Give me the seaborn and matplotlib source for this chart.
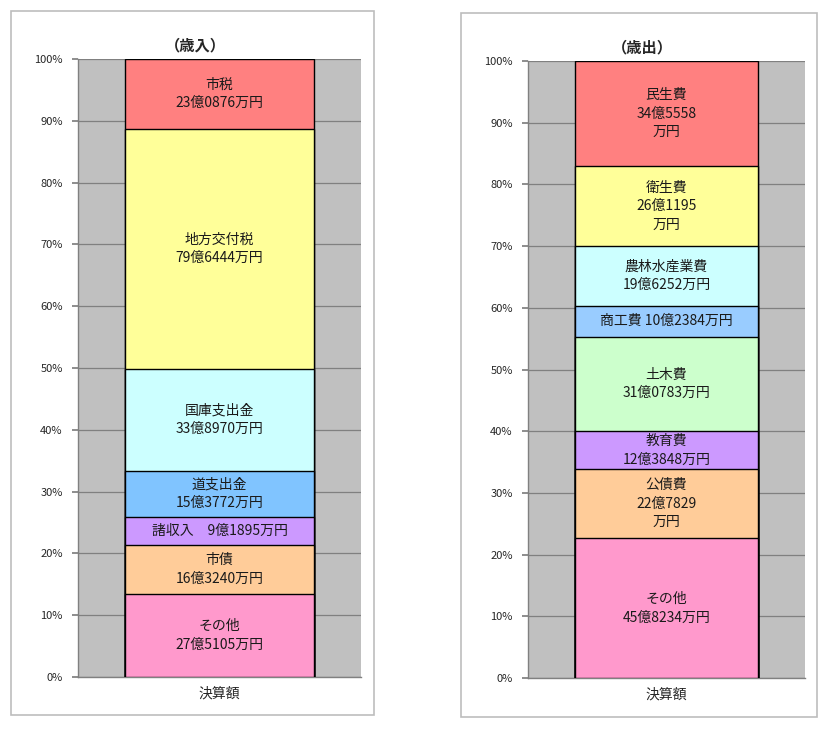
import matplotlib
matplotlib.use("Agg")
import matplotlib.pyplot as plt
from matplotlib.patches import Rectangle
import seaborn as sns
import numpy as np

# 歳入 (bottom -> top), 金額は万円
rev_names = ["その他", "市債", "諸収入", "道支出金", "国庫支出金", "地方交付税", "市税"]
rev_amounts = [275105, 163240, 91895, 153772, 338970, 796444, 230876]
rev_labels = ["その他\n27億5105万円", "市債\n16億3240万円", "諸収入　9億1895万円",
              "道支出金\n15億3772万円", "国庫支出金\n33億8970万円",
              "地方交付税\n79億6444万円", "市税\n23億0876万円"]
rev_colors = ["#FF99CC", "#FFCC99", "#CC99FF", "#80C4FF", "#CCFFFF", "#FFFF99", "#FF8080"]

# 歳出 (bottom -> top)
exp_names = ["その他", "公債費", "教育費", "土木費", "商工費", "農林水産業費", "衛生費", "民生費"]
exp_amounts = [458234, 227829, 123848, 310783, 102384, 196252, 261195, 345558]
exp_labels = ["その他\n45億8234万円", "公債費\n22億7829\n万円", "教育費\n12億3848万円",
              "土木費\n31億0783万円", "商工費 10億2384万円", "農林水産業費\n19億6252万円",
              "衛生費\n26億1195\n万円", "民生費\n34億5558\n万円"]
exp_colors = ["#FF99CC", "#FFCC99", "#CC99FF", "#CCFFCC", "#99CCFF", "#CCFFFF", "#FFFF99", "#FF8080"]

category = ["決算額"]
yticks = list(range(0, 101, 10))

sns.set_theme(style="white")
plt.rcParams['font.family'] = ['Noto Sans CJK JP', 'DejaVu Sans']

W, H = 828, 729
fig = plt.figure(figsize=(W / 100, H / 100), dpi=100)
fig.patch.set_facecolor("white")


def px_axes(x0, y0, x1, y1):
    return fig.add_axes([x0 / W, 1 - y1 / H, (x1 - x0) / W, (y1 - y0) / H])


def frame(x0, y0, x1, y1):
    fig.patches.append(Rectangle((x0 / W, 1 - y1 / H), (x1 - x0) / W, (y1 - y0) / H,
                                 transform=fig.transFigure, fill=False,
                                 edgecolor="#BDBDBD", linewidth=1.2, zorder=0))


def stacked(ax, amounts, labels, colors, title, bar_w, title_x):
    shares = np.array(amounts) / np.sum(amounts) * 100
    cum = np.cumsum(shares)
    ax.set_facecolor("#C0C0C0")
    # overlay from the top segment downwards
    for i in range(len(cum) - 1, -1, -1):
        sns.barplot(x=category, y=[cum[i]], color=colors[i], saturation=1,
                    edgecolor="black", linewidth=1.0, width=bar_w, ax=ax, zorder=3)
    starts = cum - shares
    for s, h, lab in zip(starts, shares, labels):
        ax.text(0, s + h / 2, lab, ha="center", va="center", fontsize=10,
                linespacing=1.4, color="#1a1a1a", zorder=5)
    ax.set_xlim(-0.5, 0.5)
    ax.set_ylim(0, 100)
    ax.set_yticks(yticks)
    ax.set_yticklabels([f"{t}%" for t in yticks], fontsize=8)
    ax.yaxis.grid(True, color="#808080", linewidth=0.9)
    ax.set_axisbelow(True)
    ax.tick_params(axis="y", length=4, color="#808080", pad=7, left=True)
    ax.tick_params(axis="x", length=0, labelsize=10, pad=7)
    ax.set_xlabel("")
    ax.set_ylabel("")
    for side in ["top", "right"]:
        ax.spines[side].set_visible(False)
    for side in ["left", "bottom"]:
        ax.spines[side].set_color("#808080")
        ax.spines[side].set_linewidth(1.0)
    ax.set_title(title, fontsize=11, fontweight="bold", x=title_x, pad=6)


frame(11, 11, 374, 715)
frame(461, 13, 817, 717)

ax1 = px_axes(78, 59, 361, 677)
stacked(ax1, rev_amounts, rev_labels, rev_colors, "（歳入）", 0.668, (195 - 78) / 283)

ax2 = px_axes(528, 61, 805, 678)
stacked(ax2, exp_amounts, exp_labels, exp_colors, "（歳出）", 0.664, (642 - 528) / 277)

fig.savefig("out.png", dpi=100, facecolor="white")
